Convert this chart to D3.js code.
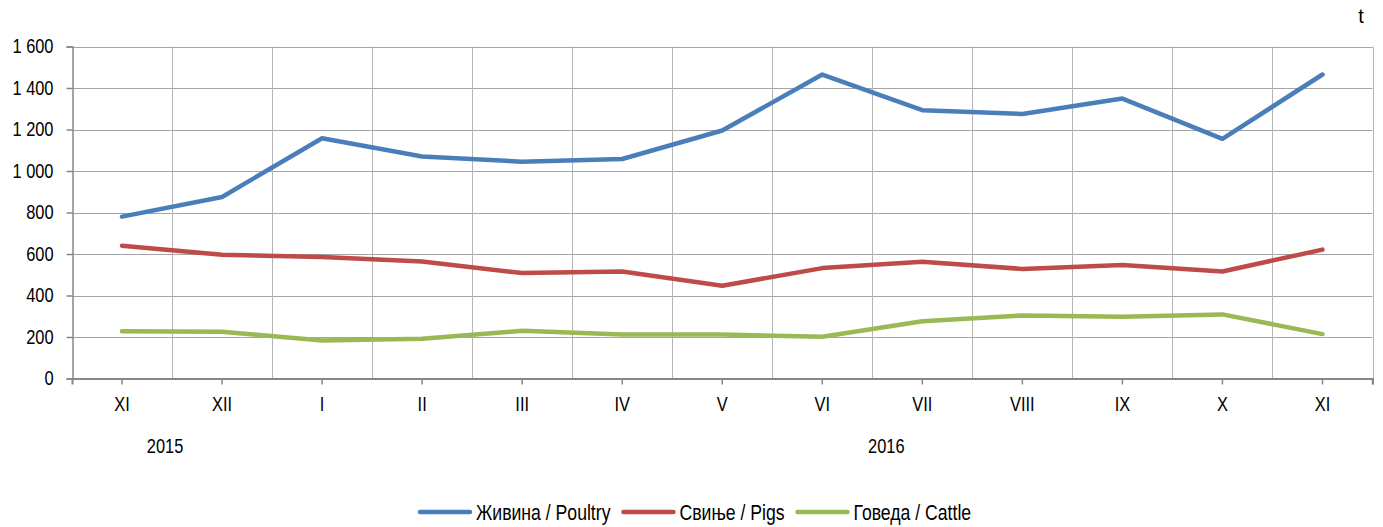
<!DOCTYPE html>
<html>
<head>
<meta charset="utf-8">
<script src="https://cdn.jsdelivr.net/npm/d3@7"></script>
<style>
  html, body { margin: 0; padding: 0; background: #fff; }
  svg { display: block; }
  text { font-family: "Liberation Sans", Arial, sans-serif; fill: #000; }
</style>
</head>
<body>
<svg id="chart" width="1383" height="527"></svg>
<script>
// ---- data ----
const categories = ["XI", "XII", "I", "II", "III", "IV", "V", "VI", "VII", "VIII", "IX", "X", "XI"];
const poultry = [780, 875, 1158, 1070, 1045, 1058, 1195, 1465, 1293, 1275, 1349, 1155, 1465];
const pigs    = [640, 596, 585, 564, 508, 516, 447, 532, 563, 528, 547, 516, 621];
const cattle  = [228, 225, 183, 191, 230, 212, 212, 201, 276, 304, 297, 309, 214];
const yTicks = [0, 200, 400, 600, 800, 1000, 1200, 1400, 1600];
const yearLabels = [{ label: "2015", at: 0.43 }, { label: "2016", at: 7.64 }];
const seriesNames = ["Живина / Poultry", "Свиње / Pigs", "Говеда / Cattle"];
const unitLabel = "t";

(function () {
const series = [
  { name: seriesNames[0], values: poultry, color: "#4a7ebb" },
  { name: seriesNames[1], values: pigs, color: "#be4b48" },
  { name: seriesNames[2], values: cattle, color: "#98b954" }
];

const NARROW = 0.82;
function narrow(sel) {
  sel.each(function () {
    const len = this.getComputedTextLength();
    d3.select(this).attr("textLength", len * NARROW).attr("lengthAdjust", "spacingAndGlyphs");
  });
}

// ---- layout ----
const svg = d3.select("#chart");
const pL = 72, pR = 1372.5, pT = 46.5, pB = 378.5;
const idx = d3.range(categories.length);

const x = d3.scaleBand().domain(idx).range([pL, pR]).padding(0);
const xc = i => x(i) + x.bandwidth() / 2;
const xPos = d3.scaleLinear().domain([0, 1]).range([xc(0), xc(1)]);
const y = d3.scaleLinear().domain([0, 1600]).range([pB, pT]);

const fmt = v => d3.format(",")(v).replace(/,/g, " ");

// horizontal gridlines
svg.append("g").selectAll("line").data(yTicks.filter(d => d > 0)).join("line")
  .attr("x1", pL).attr("x2", pR)
  .attr("y1", d => Math.round(y(d)) + 0.5).attr("y2", d => Math.round(y(d)) + 0.5)
  .attr("stroke", "#a5a5a5").attr("stroke-width", 1);

// vertical gridlines at category boundaries
svg.append("g").selectAll("line").data(idx.map(i => i + 1)).join("line")
  .attr("x1", d => Math.round(d === categories.length ? pR : x(d)) + 0.5)
  .attr("x2", d => Math.round(d === categories.length ? pR : x(d)) + 0.5)
  .attr("y1", pT).attr("y2", pB)
  .attr("stroke", "#b4b4b4").attr("stroke-width", 1);

// y axis
const yAxis = d3.axisLeft(y).tickValues(yTicks).tickSize(6).tickPadding(13).tickFormat(fmt);
const gy = svg.append("g").attr("transform", `translate(${pL + 0.5},0)`).call(yAxis);
gy.select(".domain").attr("stroke", "#868686").attr("stroke-width", 1.5);
gy.selectAll(".tick line").attr("stroke", "#868686").attr("stroke-width", 1.5);
gy.selectAll(".tick text").attr("font-size", 20).attr("fill", "#000")
  .style("font-family", '"Liberation Sans", Arial, sans-serif').call(narrow);

// x axis
const xAxis = d3.axisBottom(x).tickSize(6).tickPadding(12).tickFormat(i => categories[i]);
const gx = svg.append("g").attr("transform", `translate(0,${pB})`).call(xAxis);
gx.select(".domain").attr("stroke", "#868686").attr("stroke-width", 2);
gx.selectAll(".tick line").attr("stroke", "#868686").attr("stroke-width", 1.5);
gx.selectAll(".tick text").attr("font-size", 20).attr("fill", "#000")
  .style("font-family", '"Liberation Sans", Arial, sans-serif').call(narrow);
gx.append("line").attr("x1", pR).attr("x2", pR).attr("y1", 0).attr("y2", 6)
  .attr("stroke", "#868686").attr("stroke-width", 1.5);

// year labels
svg.append("g").selectAll("text").data(yearLabels).join("text")
  .attr("x", d => xPos(d.at)).attr("y", 453)
  .attr("text-anchor", "middle").attr("font-size", 20)
  .text(d => d.label).call(narrow);

// unit label
svg.append("text").attr("x", 1361).attr("y", 23).attr("text-anchor", "middle")
  .attr("font-size", 20).text(unitLabel);

// lines
const line = d3.line().x((d, i) => xc(i)).y(d => y(d));
svg.append("g").selectAll("path").data(series).join("path")
  .attr("d", d => line(d.values))
  .attr("fill", "none").attr("stroke", d => d.color)
  .attr("stroke-width", 4.5).attr("stroke-linejoin", "round").attr("stroke-linecap", "round");

// legend
const legend = svg.append("g").attr("transform", "translate(0,512)");
const items = legend.selectAll("g").data(series).join("g");
items.append("line").attr("x1", 2).attr("x2", 52).attr("y1", 0).attr("y2", 0)
  .attr("stroke", d => d.color).attr("stroke-width", 4.5).attr("stroke-linecap", "round");
items.append("text").attr("x", 58).attr("y", 7.5).attr("font-size", 21.5).text(d => d.name).call(narrow);
let cx = 418;
items.each(function () {
  const w = +d3.select(this).select("text").attr("textLength");
  d3.select(this).attr("transform", `translate(${cx},0)`);
  cx += 58 + w + 11;
});
})();
</script>
</body>
</html>
